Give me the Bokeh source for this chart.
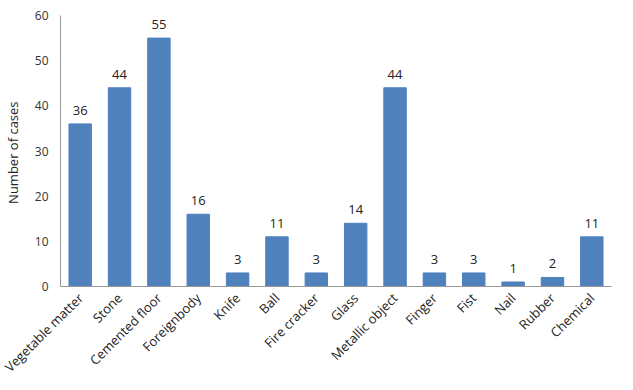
from bokeh.plotting import figure
from bokeh.models import ColumnDataSource, LabelSet, Range1d, FixedTicker
from bokeh.core.properties import value
from bokeh.embed import file_html
from bokeh.resources import INLINE
import math

categories = ["Vegetable matter", "Stone", "Cemented floor", "Foreignbody", "Knife", "Ball",
              "Fire cracker", "Glass", "Metallic object", "Finger", "Fist", "Nail", "Rubber", "Chemical"]
cases = [36, 44, 55, 16, 3, 11, 3, 14, 44, 3, 3, 1, 2, 11]
y_ticks = [0, 10, 20, 30, 40, 50, 60]

src = ColumnDataSource(dict(cat=categories, val=cases, lab=[str(v) for v in cases]))

p = figure(x_range=categories, y_range=Range1d(0, 60), width=617, height=384,
           output_backend="svg", toolbar_location=None,
           min_border_left=57, min_border_right=6, min_border_top=15, min_border_bottom=2)
p.vbar(x="cat", top="val", width=0.57, source=src, color="#4F81BD")

labels = LabelSet(x="cat", y="val", text="lab", source=src, text_align="center",
                  text_baseline="bottom", y_offset=9, text_font_size="13px",
                  text_color="#222222", text_font=value("Open Sans"))
p.add_layout(labels)

p.outline_line_color = None
p.xgrid.grid_line_color = None
p.ygrid.grid_line_color = None
p.background_fill_color = "white"

p.yaxis.ticker = FixedTicker(ticks=y_ticks)
p.yaxis.axis_line_color = "#999999"
p.yaxis.major_tick_line_color = None
p.yaxis.minor_tick_line_color = None
p.yaxis.major_label_text_font_size = "12px"
p.yaxis.major_label_text_color = "#333333"
p.yaxis.major_label_text_font = "Open Sans"
p.yaxis.major_label_standoff = 6
p.yaxis.axis_label = "Number  of cases"
p.yaxis.axis_label_text_font_style = "normal"
p.yaxis.axis_label_text_font_size = "13px"
p.yaxis.axis_label_text_font = "Open Sans"
p.yaxis.axis_label_text_color = "#222222"
p.yaxis.axis_label_standoff = 10

p.xaxis.axis_line_color = "#999999"
p.xaxis.major_tick_line_color = None
p.xaxis.minor_tick_line_color = None
p.xaxis.major_label_orientation = math.pi / 4
p.xaxis.major_label_text_font_size = "13px"
p.xaxis.major_label_text_color = "#222222"
p.xaxis.major_label_text_font = "Open Sans"
p.xaxis.major_label_standoff = 3
p.x_range.range_padding = 0

open("out.html", "w").write(file_html(p, INLINE))
